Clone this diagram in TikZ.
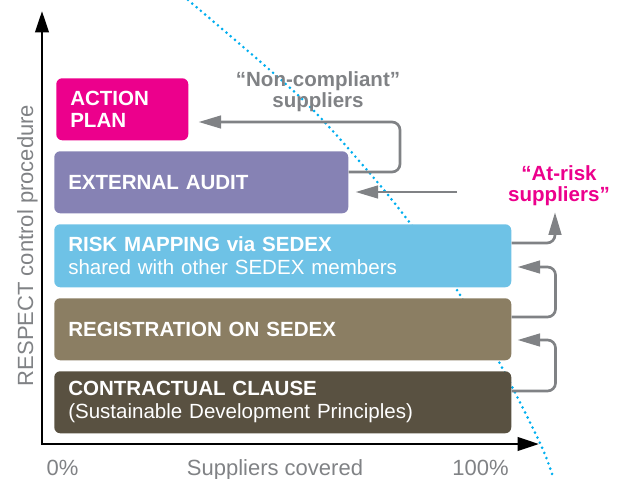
\documentclass[tikz,border=0pt]{standalone}
\usepackage{fontspec}
\setmainfont{Liberation Sans}
\usetikzlibrary{arrows.meta,positioning}

\definecolor{planpink}{HTML}{EC008C}
\definecolor{auditpurple}{HTML}{8682B4}
\definecolor{riskblue}{HTML}{6EC2E6}
\definecolor{regtan}{HTML}{8B7E63}
\definecolor{clausebrown}{HTML}{595141}
\definecolor{loopgray}{HTML}{808285}
\definecolor{dotcyan}{HTML}{00AEEF}

\tikzset{
  stage/.style={anchor=north west, rounded corners=4.5pt, minimum height=46.5pt,
    inner xsep=10.5pt, inner ysep=0pt, align=left, text=white,
    font=\fontsize{15.4}{17}\selectfont\bfseries},
  loop/.style={draw=loopgray, line width=2pt, rounded corners=6pt,
    -{Triangle[length=17pt,width=9.5pt]}},
  note/.style={align=center, font=\fontsize{15.4}{16}\selectfont\bfseries},
  axis/.style={line width=2pt, black, -{Triangle[length=16pt,width=10pt]}},
  axislabel/.style={text=loopgray, anchor=base, font=\fontsize{16.5}{18}\selectfont},
}

\begin{document}
\begin{tikzpicture}[x=0.75pt,y=0.75pt,yscale=-1,xscale=1]

\useasboundingbox (0,0) rectangle (619,479);

%%%%%%%%%%%%%%%%%%%%%%%%%%%%%%%%%%%%%%%%%%%%%%%%%%%%%%%%%%%%%%%%%%%%%%%%

\draw [dotcyan, line width=2.2pt, line cap=round, dash pattern=on 0pt off 4.2pt]
  plot [smooth] coordinates {(188,0) (300,97) (367,170) (410,223) (455,287) (498,360) (540,443) (553,477)};

%%%%%%%%%%%%%%%%%%%%%%%%%%%%%%%%%%%%%%%%%%%%%%%%%%%%%%%%%%%%%%%%%%%%%%%%

\node [stage, fill=planpink, text width=78pt] (plan) at (56,78) {ACTION\\PLAN};
\node [stage, fill=auditpurple, text width=199.5pt] (audit) at (54,151) {EXTERNAL AUDIT};
\node [stage, fill=riskblue, text width=321.75pt, minimum height=47.25pt] (risk) at (54,224)
  {RISK MAPPING via SEDEX\\\textmd{shared with other SEDEX members}};
\node [stage, fill=regtan, text width=321.75pt] (reg) at (54,298) {REGISTRATION ON SEDEX};
\node [stage, fill=clausebrown, text width=321.75pt] (clause) at (54,371)
  {CONTRACTUAL CLAUSE\\\textmd{(Sustainable Development Principles)}};

%%%%%%%%%%%%%%%%%%%%%%%%%%%%%%%%%%%%%%%%%%%%%%%%%%%%%%%%%%%%%%%%%%%%%%%%

\node [note, text=loopgray] (noncomp) at (318,92) {``Non-compliant''\\suppliers};
\node [note, text=planpink] (atrisk) at (559,186) {``At-risk\\suppliers''};

\draw [loop, shorten >=4.5pt] (clause.east |- 0,391) -- ++(44,0) |- (reg.east |- 0,340);
\draw [loop, shorten >=4.5pt] (reg.east |- 0,317) -- ++(44,0) |- (risk.east |- 0,267);
\draw [loop, shorten >=1pt] (risk.east |- 0,243) -| ([xshift=-3pt]atrisk.south);
\draw [loop, shorten >=7.5pt] (audit.east |- 0,172) -- (400,172) -- (400,122) -- (plan.east |- 0,122);

\coordinate (auditin) at (457,192);
\draw [loop, shorten >=5.25pt] (auditin) -- (audit.east |- auditin);

%%%%%%%%%%%%%%%%%%%%%%%%%%%%%%%%%%%%%%%%%%%%%%%%%%%%%%%%%%%%%%%%%%%%%%%%

\coordinate (origin) at (42,444);
\draw [axis] (origin) -- (42,11);
\draw [axis] ([xshift=-0.75pt]origin) -- (539,444);

\node [axislabel, rotate=90] (ylabel) at (33,245.5) {RESPECT control procedure};
\node [axislabel] (zero) at (62.5,475) {0\%};
\node [axislabel] (xlabel) at (275,475) {Suppliers covered};
\node [axislabel] (full) at (480.5,475) {100\%};

%%%%%%%%%%%%%%%%%%%%%%%%%%%%%%%%%%%%%%%%%%%%%%%%%%%%%%%%%%%%%%%%%%%%%%%%

\end{tikzpicture}
\end{document}
